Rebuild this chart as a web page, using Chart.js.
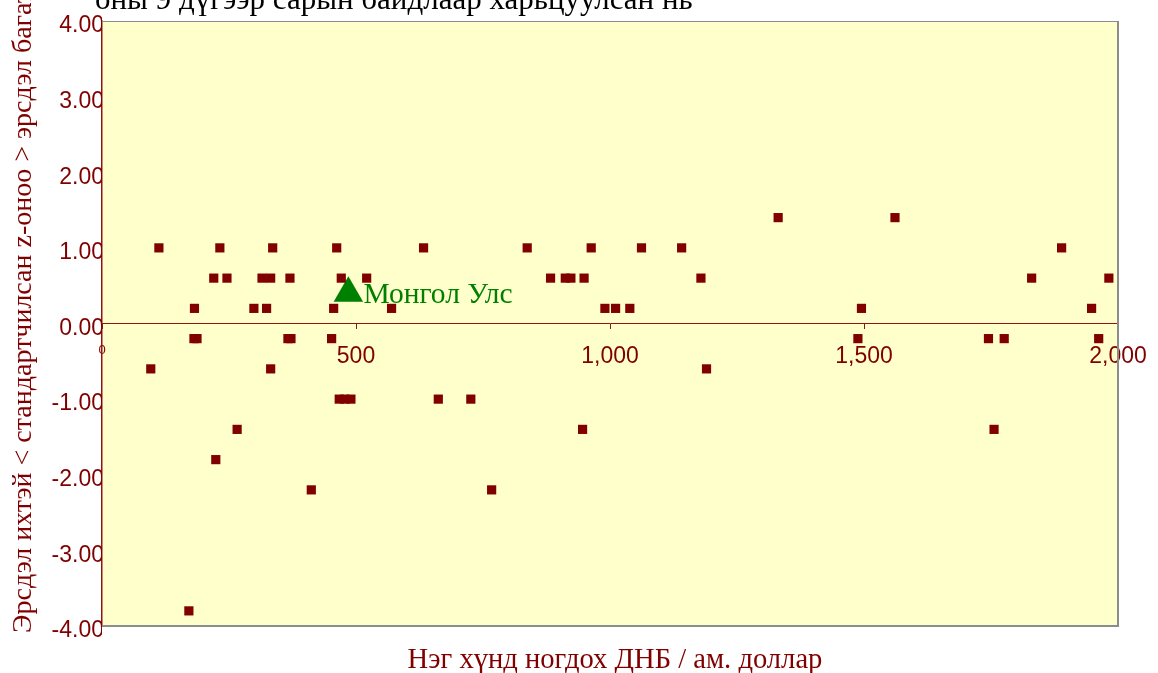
<!DOCTYPE html>
<html>
<head>
<meta charset="utf-8">
<script src="https://cdn.jsdelivr.net/npm/chart.js@4.4.1/dist/chart.umd.min.js"></script>
<style>
  html, body { margin: 0; padding: 0; background: #fff; }
  #wrap { width: 1158px; height: 673px; position: relative; }
</style>
</head>
<body>
<div id="wrap"><canvas id="chartZScore"></canvas></div>
<script>
// GDP per capita (USD) for each country
const gdpPerCapita = [
  1331, 1561,
  112, 232, 336, 462, 633, 837, 963, 1062, 1141, 1889,
  220, 246, 315, 332, 370, 471, 521, 883, 912, 923, 949, 1179, 1830, 1982,
  182, 299, 324, 456, 570, 990, 1011, 1039, 1495, 1948,
  181, 187, 366, 372, 452, 1488, 1745, 1776, 1962,
  96, 332, 1190,
  467, 478, 490, 662, 726,
  266, 946, 1756,
  224,
  412, 767,
  171
];
// standardised z-score for the same countries
const zScore = [
  1.4, 1.4,
  1.0, 1.0, 1.0, 1.0, 1.0, 1.0, 1.0, 1.0, 1.0, 1.0,
  0.6, 0.6, 0.6, 0.6, 0.6, 0.6, 0.6, 0.6, 0.6, 0.6, 0.6, 0.6, 0.6, 0.6,
  0.2, 0.2, 0.2, 0.2, 0.2, 0.2, 0.2, 0.2, 0.2, 0.2,
  -0.2, -0.2, -0.2, -0.2, -0.2, -0.2, -0.2, -0.2, -0.2,
  -0.6, -0.6, -0.6,
  -1.0, -1.0, -1.0, -1.0, -1.0,
  -1.4, -1.4, -1.4,
  -1.8,
  -2.2, -2.2,
  -3.8
];
const mongoliaLabel = ['Монгол Улс'];
const mongoliaX = [485];
const mongoliaY = [0.4];

const xTicks = [0, 500, 1000, 1500, 2000];
const yTicks = [-4, -3, -2, -1, 0, 1, 2, 3, 4];

const chartTitle = 'оны 9 дүгээр сарын байдлаар харьцуулсан нь';
const xTitle = 'Нэг хүнд ногдох ДНБ / ам. доллар';
const yTitle = 'Эрсдэл ихтэй < стандартчилсан z-оноо > эрсдэл багатай';

const darkRed = '#800000';
const axisRed = '#8f1515';
const green = '#008000';
const serif = "'Liberation Serif', 'DejaVu Serif', serif";
const sans = "'Liberation Sans', Arial, sans-serif";

let points = gdpPerCapita.map((x, i) => ({ x: x, y: zScore[i] }));
let mongolia = mongoliaX.map((x, i) => ({ x: x, y: mongoliaY[i] }));

// plot background, frame and free texts
const decorPlugin = {
  id: 'decor',
  beforeDraw(chart) {
    const { ctx, chartArea: a } = chart;
    ctx.save();
    ctx.fillStyle = '#FFFFCC';
    ctx.fillRect(a.left, a.top, a.right - a.left, a.bottom - a.top);
    ctx.restore();
  },
  afterDraw(chart) {
    const { ctx, chartArea: a } = chart;
    ctx.save();
    // grey frame top / right / bottom
    ctx.strokeStyle = '#8c8c8c';
    ctx.lineWidth = 1;
    ctx.beginPath();
    ctx.moveTo(a.left, a.top + 0.5);
    ctx.lineTo(a.right, a.top + 0.5);
    ctx.stroke();
    ctx.lineWidth = 2;
    ctx.beginPath();
    ctx.moveTo(a.right, a.top);
    ctx.lineTo(a.right, a.bottom);
    ctx.lineTo(a.left, a.bottom);
    ctx.stroke();

    // title (second line, first line is cut off)
    ctx.fillStyle = '#000';
    ctx.font = '31px ' + serif;
    ctx.textAlign = 'left';
    ctx.textBaseline = 'alphabetic';
    ctx.fillText(chartTitle, 95, 9);

    // x axis title
    ctx.fillStyle = darkRed;
    ctx.font = '28.6px ' + serif;
    ctx.textAlign = 'center';
    ctx.fillText(xTitle, (a.left + a.right) / 2 + 5, 668);

    // y axis title
    ctx.save();
    ctx.font = '28px ' + serif;
    ctx.translate(31, 633);
    ctx.rotate(-Math.PI / 2);
    ctx.textAlign = 'left';
    ctx.fillText(yTitle, 0, 0);
    ctx.restore();

    // Mongolia label
    const pt = chart.getDatasetMeta(1).data[0];
    ctx.fillStyle = green;
    ctx.font = '29.5px ' + serif;
    ctx.textAlign = 'left';
    ctx.fillText(mongoliaLabel[0], pt.x + 15, pt.y + 10);
    ctx.restore();
  }
};

let ctxZ = document.getElementById('chartZScore').getContext('2d');

let chartZ = new Chart(ctxZ, {
  type: 'scatter',
  data: {
    datasets: [{
      data: points,
      pointStyle: 'rect',
      pointRadius: 6.5,
      backgroundColor: darkRed,
      borderWidth: 0
    }, {
      data: mongolia,
      pointStyle: 'triangle',
      pointRadius: 17,
      backgroundColor: green,
      borderWidth: 0
    }]
  },
  options: {
    responsive: true,
    maintainAspectRatio: false,
    animation: false,
    layout: { padding: { left: 0, top: 21, right: 40, bottom: 47 } },
    plugins: {
      legend: { display: false },
      tooltip: { enabled: false },
      title: { display: false }
    },
    scales: {
      x: {
        type: 'linear',
        position: { y: 0 },
        min: 0,
        max: 2000,
        afterBuildTicks: (scale) => { scale.ticks = xTicks.map(v => ({ value: v })); },
        // labels may hang over the plot edge, like the original
        afterFit: (scale) => { scale.paddingLeft = 0; scale.paddingRight = 0; },
        grid: { drawOnChartArea: false, drawTicks: true, tickLength: 5, color: axisRed },
        border: { color: axisRed, width: 1 },
        ticks: {
          color: darkRed,
          padding: 14,
          maxRotation: 0,
          font: (c) => c.tick && c.tick.value === 0
            ? { family: sans, size: 13 }
            : { family: sans, size: 23 },
          callback: (v) => v.toLocaleString('en-US')
        }
      },
      y: {
        type: 'linear',
        min: -4,
        max: 4,
        afterBuildTicks: (scale) => { scale.ticks = yTicks.map(v => ({ value: v })); },
        afterFit: (scale) => { scale.width = 102; scale.paddingTop = 0; scale.paddingBottom = 0; },
        grid: { display: false, drawTicks: false },
        border: { color: axisRed, width: 1.5 },
        ticks: {
          color: darkRed,
          padding: -2,
          labelOffset: 5,
          font: { family: sans, size: 23 },
          callback: (v) => v.toFixed(2)
        }
      }
    }
  },
  plugins: [decorPlugin]
});
</script>
</body>
</html>
